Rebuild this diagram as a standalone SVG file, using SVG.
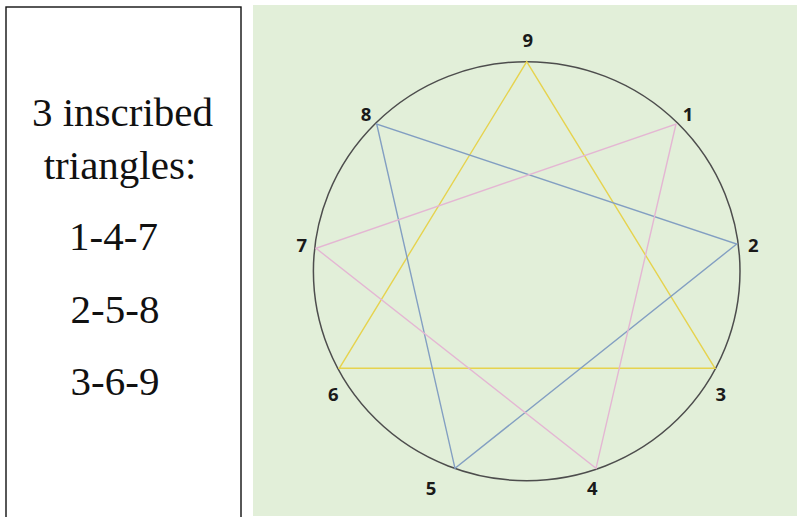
<svg xmlns="http://www.w3.org/2000/svg" width="798" height="517" viewBox="0 0 798 517">
  <style>
    .panel { fill: #ffffff; stroke: #111111; stroke-width: 1.4; }
    .side { font-family: "Liberation Serif", "DejaVu Serif", serif; font-size: 41px; fill: #111111; text-anchor: middle; }
    .lbl { font-family: "Open Sans", "Liberation Sans", sans-serif; font-weight: 700; font-size: 18.5px; fill: #1a1a1a; text-anchor: middle; }
    .ring { fill: none; stroke: #4d4d4d; stroke-width: 1.5; }
    .yel { fill: none; stroke: #e6d34e; stroke-width: 1.4; }
    .blu { fill: none; stroke: #839fc2; stroke-width: 1.4; }
    .pnk { fill: none; stroke: #e4b6d3; stroke-width: 1.4; }
  </style>
  <rect x="0" y="0" width="798" height="517" fill="#ffffff"/>
  <g id="legend">
    <rect class="panel" x="6" y="7" width="235" height="520"/>
    <text class="side" x="122.5" y="126" font-size="42">3 inscribed</text>
    <text class="side" x="120" y="179" font-size="42">triangles:</text>
    <text class="side" x="113.5" y="250">1-4-7</text>
    <text class="side" x="115" y="323">2-5-8</text>
    <text class="side" x="115" y="395">3-6-9</text>
  </g>
  <rect id="background" x="253" y="5" width="544" height="511" fill="#e2efd9"/>
  <g id="circle">
    <ellipse class="ring" cx="526.7" cy="271.2" rx="213.3" ry="209.5"/>
  </g>
  <g id="connectors">
    <polygon class="yel" points="715,368.3 339.3,368.3 526.7,61.7"/>
    <polygon class="blu" points="736.7,244 455,468.3 376.7,124"/>
    <polygon class="pnk" points="676,124 596,468.3 316,248.3"/>
  </g>
  <g id="node-9"><text class="lbl" x="527.7" y="46.5">9</text></g>
  <g id="node-1"><text class="lbl" x="688" y="121">1</text></g>
  <g id="node-2"><text class="lbl" x="753.3" y="252">2</text></g>
  <g id="node-3"><text class="lbl" x="720.7" y="401">3</text></g>
  <g id="node-4"><text class="lbl" x="592.3" y="494.5">4</text></g>
  <g id="node-5"><text class="lbl" x="431" y="494.5">5</text></g>
  <g id="node-6"><text class="lbl" x="333.3" y="401">6</text></g>
  <g id="node-7"><text class="lbl" x="301.7" y="252">7</text></g>
  <g id="node-8"><text class="lbl" x="366" y="121">8</text></g>
</svg>
